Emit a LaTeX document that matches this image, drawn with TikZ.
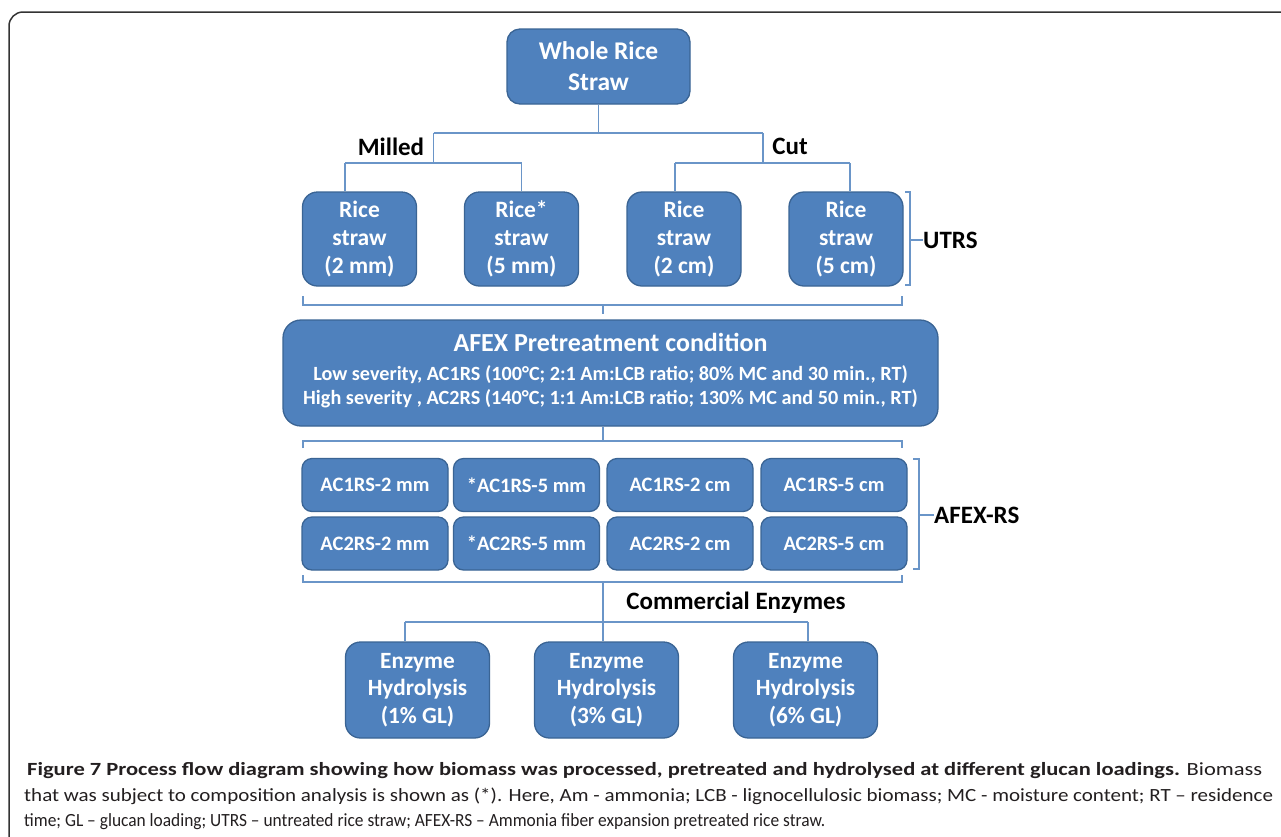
\documentclass[tikz,border=0pt]{standalone}
\usepackage{fontspec}
\setmainfont{Carlito}
\newfontfamily\capfont[FakeStretch=0.94]{Carlito}
\definecolor{boxfill}{HTML}{4F81BD}
\definecolor{boxborder}{HTML}{3A6494}
\definecolor{linec}{HTML}{6A95C8}
\definecolor{framec}{HTML}{333333}
\definecolor{captext}{HTML}{231F20}
\tikzset{
  box/.style={draw=boxborder, fill=boxfill, line width=1.3pt, text=white, align=center, inner sep=0pt, font=\bfseries},
  bigbox/.style={box, rounded corners=13pt, font=\bfseries\fontsize{25.5}{31}\selectfont},
  rsbox/.style={box, rounded corners=15pt, minimum width=114pt, minimum height=94pt, font=\bfseries\fontsize{23.5}{28}\selectfont},
  gbox/.style={box, rounded corners=10pt, minimum width=146pt, minimum height=53pt, font=\bfseries\fontsize{20.5}{23}\selectfont},
  ebox/.style={box, rounded corners=15pt, minimum width=144pt, minimum height=96pt, font=\bfseries\fontsize{23.3}{27.5}\selectfont},
  conn/.style={draw=linec, line width=1.2pt},
  lbl/.style={font=\bfseries\fontsize{25}{27}\selectfont, text=black, inner sep=0pt},
  capline/.style={anchor=base west, inner sep=0pt, text=captext, font=\capfont\fontsize{18.6}{25}\selectfont}
}
\begin{document}
\begin{tikzpicture}[x=1pt,y=-1pt]
\useasboundingbox (0,0) rectangle (1281,836);
\fill[white] (0,0) rectangle (1281,836);
% frame
\draw[framec, line width=1.5pt, rounded corners=14pt] (9,840) -- (9,12) -- (1285,12);

% nodes
\node[bigbox, minimum width=183pt, minimum height=75pt] (wrs) at (598.5,66.5) {Whole Rice\\Straw};
\node[rsbox] (r1) at (359.5,239) {Rice\\straw\\(2 mm)};
\node[rsbox] (r2) at (521.5,239) {Rice*\\straw\\(5 mm)};
\node[rsbox] (r3) at (684,239) {Rice\\straw\\(2 cm)};
\node[rsbox] (r4) at (846,239) {Rice\\straw\\(5 cm)};

\node[box, rounded corners=18pt, minimum width=655pt, minimum height=106pt] (afex) at (610.5,373) {};
\node[text=white, font=\bfseries\fontsize{26}{28}\selectfont, inner sep=0pt, anchor=base] (afext) at (610.5,351) {AFEX Pretreatment condition};
\node[text=white, font=\bfseries\fontsize{20.2}{23}\selectfont, inner sep=0pt, anchor=base] (afexl) at (610.5,380) {Low severity, AC1RS (100°C; 2:1 Am:LCB ratio; 80\% MC and 30 min., RT)};
\node[text=white, font=\bfseries\fontsize{20.2}{23}\selectfont, inner sep=0pt, anchor=base] (afexh) at (610.5,404) {High severity , AC2RS (140°C; 1:1 Am:LCB ratio; 130\% MC and 50 min., RT)};

\node[gbox] (g11) at (375,485) {AC1RS-2 mm};
\node[gbox] (g12) at (526.5,485) {*AC1RS-5 mm};
\node[gbox] (g13) at (680,485) {AC1RS-2 cm};
\node[gbox] (g14) at (834,485) {AC1RS-5 cm};
\node[gbox] (g21) at (375,543.5) {AC2RS-2 mm};
\node[gbox] (g22) at (526.5,543.5) {*AC2RS-5 mm};
\node[gbox] (g23) at (680,543.5) {AC2RS-2 cm};
\node[gbox] (g24) at (834,543.5) {AC2RS-5 cm};

\node[ebox] (e1) at (417.5,690) {Enzyme\\Hydrolysis\\(1\% GL)};
\node[ebox] (e2) at (606.5,690) {Enzyme\\Hydrolysis\\(3\% GL)};
\node[ebox] (e3) at (805.5,690) {Enzyme\\Hydrolysis\\(6\% GL)};

% labels
\node[lbl] (milled) at (391,147) {Milled};
\node[lbl] (cut) at (790,146) {Cut};
\node[lbl, anchor=west] (utrs) at (923,240) {UTRS};
\node[lbl, anchor=west] (afexrs) at (934,515) {AFEX-RS};
\node[lbl] (comm) at (736,603) {Commercial Enzymes};

% tree connectors
\coordinate (j0) at (598.5,133);
\coordinate (jl) at (433.5,133);
\coordinate (jr) at (763,133);
\coordinate (jl2) at (433.5,163);
\coordinate (jr2) at (763,163);
\coordinate (a1) at (345,163);
\coordinate (a2) at (521.5,163);
\coordinate (a3) at (675,163);
\coordinate (a4) at (850,163);
\draw[conn] (wrs.south) -- (j0);
\draw[conn] (jl) -- (jr);
\draw[conn] (jl) -- (jl2);
\draw[conn] (jr) -- (jr2);
\draw[conn] (a1) -- (a2);
\draw[conn] (a3) -- (a4);
\draw[conn] (a1) -- (a1 |- r1.north);
\draw[conn] (a2) -- (a2 |- r2.north);
\draw[conn] (a3) -- (a3 |- r3.north);
\draw[conn] (a4) -- (a4 |- r4.north);

% bracket under row 1
\draw[conn] (303,296) -- (303,305) -- (902,305) -- (902,296);
\draw[conn] (603,305) -- (603,314);
% UTRS bracket
\draw[conn] (905,192) -- (910,192) -- (910,285) -- (905,285);
\draw[conn] (910,240) -- (utrs.west);

% bracket under AFEX
\draw[conn] (afex.south -| 603,0) -- (603,441);
\draw[conn] (303,448) -- (303,441) -- (902,441) -- (902,448);
% AFEX-RS bracket
\draw[conn] (913,459) -- (919,459) -- (919,569) -- (913,569);
\draw[conn] (919,515) -- (afexrs.west);

% bracket under grid + enzyme connectors
\draw[conn] (303,575) -- (303,582) -- (902,582) -- (902,575);
\coordinate (ec) at (603,582);
\coordinate (el) at (405,622);
\coordinate (er) at (808,622);
\draw[conn] (ec) -- (ec |- e2.north);
\draw[conn] (el) -- (er);
\draw[conn] (el) -- (el |- e1.north);
\draw[conn] (er) -- (er |- e3.north);

% caption
\node[capline] (cap1) at (27,775) {\resizebox{1235pt}{\height}{\bfseries Figure 7 Process flow diagram showing how biomass was processed, pretreated and hydrolysed at different glucan loadings.\mdseries{} Biomass}};
\node[capline] (cap2) at (24,801) {\resizebox{1249pt}{\height}{that was subject to composition analysis is shown as (*). Here, Am - ammonia; LCB - lignocellulosic biomass; MC - moisture content; RT – residence}};
\node[capline] (cap3) at (24,826) {\resizebox{801pt}{\height}{time; GL – glucan loading; UTRS – untreated rice straw; AFEX-RS – Ammonia fiber expansion pretreated rice straw.}};
\end{tikzpicture}
\end{document}
